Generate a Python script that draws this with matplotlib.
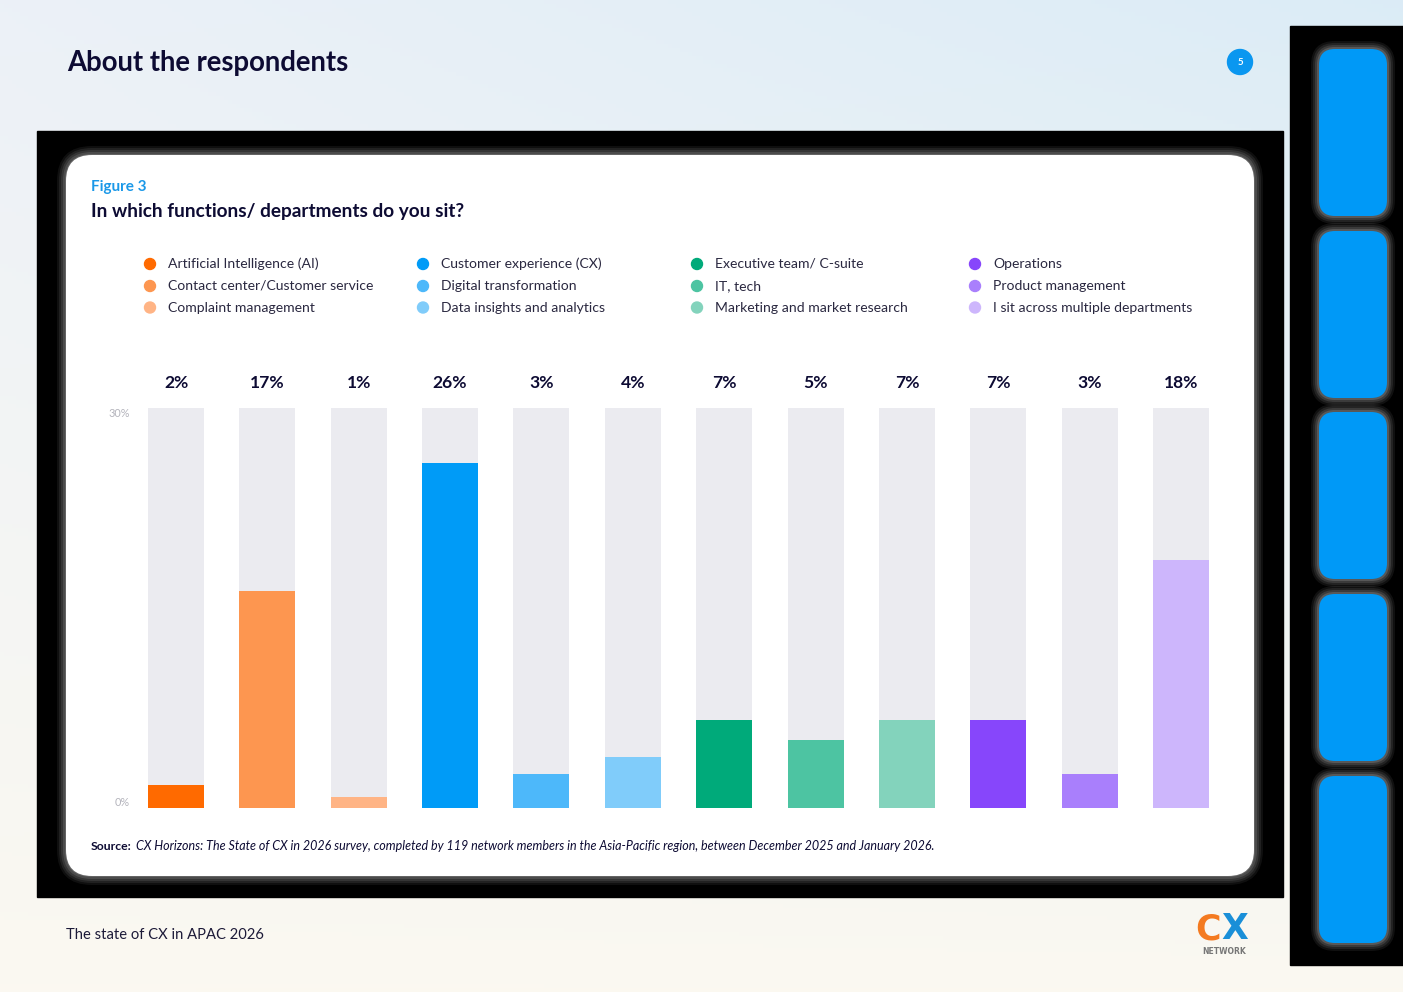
import numpy as np
import matplotlib
matplotlib.use("Agg")
import matplotlib.pyplot as plt
from matplotlib.patches import FancyBboxPatch, Rectangle, Circle
from matplotlib.transforms import blended_transform_factory, ScaledTranslation

# ---------------- data ----------------
categories = [
    "Artificial Intelligence (AI)",
    "Contact center/Customer service",
    "Complaint management",
    "Customer experience (CX)",
    "Digital transformation",
    "Data insights and analytics",
    "Executive team/ C-suite",
    "IT, tech",
    "Marketing and market research",
    "Operations",
    "Product management",
    "I sit across multiple departments",
]
values = [1.7, 16.3, 0.8, 25.9, 2.5, 3.8, 6.6, 5.1, 6.6, 6.6, 2.5, 18.6]
value_labels = ["2%", "17%", "1%", "26%", "3%", "4%", "7%", "5%", "7%", "7%", "3%", "18%"]
colors = ["#ff6a00", "#fd9650", "#ffb485",
          "#009bf7", "#4db8fa", "#80ccfa",
          "#00aa7a", "#4dc4a2", "#83d3bc",
          "#8746fb", "#a97ffc", "#cdb6fc"]
axis_max = 30
y_tick_labels = ["0%", "30%"]

W, H = 1403, 992
FONT = "Lato"
NAVY = "#0d0b33"

fig = plt.figure(figsize=(W / 100, H / 100), dpi=100)

# ---------------- background (pixel coordinate axes) ----------------
bg = fig.add_axes([0, 0, 1, 1])
bg.set_xlim(0, W)
bg.set_ylim(H, 0)
bg.axis("off")

yy, xx = np.mgrid[0:H:4, 0:W:4]
xn = xx / W
yn = yy / H
c_tl = np.array([0.925, 0.945, 0.970])
c_tr = np.array([0.860, 0.925, 0.965])
c_bot = np.array([0.985, 0.975, 0.945])
top = c_tl[None, None, :] * (1 - xn[..., None]) + c_tr[None, None, :] * xn[..., None]
img = top * (1 - yn[..., None]) + c_bot[None, None, :] * yn[..., None]
bg.imshow(img, extent=[0, W, H, 0], aspect="auto", zorder=0)

# black frame behind the card
bg.add_patch(Rectangle((37, 131), 1283 - 37, 897 - 131, color="black", zorder=1))

# card glow
for i, a in enumerate([0.07, 0.09, 0.11, 0.14, 0.18]):
    pad = 9 - 2 * i
    bg.add_patch(FancyBboxPatch((66 - pad, 155 - pad), 1254 - 66 + 2 * pad, 876 - 155 + 2 * pad,
                                boxstyle=f"round,pad=0,rounding_size={26 + pad}",
                                fc="#d8d8d8", ec="none", alpha=a, zorder=2))
bg.add_patch(FancyBboxPatch((66, 155), 1254 - 66, 876 - 155,
                            boxstyle="round,pad=0,rounding_size=26",
                            fc="white", ec="none", zorder=3))

# right-side panel
bg.add_patch(Rectangle((1290, 26), W - 1290, 965 - 26, color="black", zorder=1))
for y0 in [49, 231, 412, 594, 776]:
    for i, a in enumerate([0.08, 0.10, 0.14, 0.2]):
        pad = 8 - 2 * i
        bg.add_patch(FancyBboxPatch((1319 - pad, y0 - pad), 68 + 2 * pad, 167 + 2 * pad,
                                    boxstyle=f"round,pad=0,rounding_size={16 + pad}",
                                    fc="#d0d0d0", ec="none", alpha=a, zorder=2))
    bg.add_patch(FancyBboxPatch((1319, y0), 68, 167,
                                boxstyle="round,pad=0,rounding_size=16",
                                fc="#0099f7", ec="none", zorder=3))

# page header
bg.text(67, 63, "About the respondents", fontsize=19.8, fontweight="bold",
        color=NAVY, family=FONT, va="center", ha="left", zorder=5)
bg.add_patch(Circle((1240, 62), 12.5, color="#0a97f0", zorder=5))
bg.text(1240, 62.5, "5", fontsize=7, fontweight="bold", color="white",
        family=FONT, va="center", ha="center", zorder=6)

# card titles
bg.text(91, 187.5, "Figure 3", fontsize=11, fontweight="bold", color="#1a98e8",
        family=FONT, va="center", ha="left", zorder=5)
bg.text(91, 211.5, "In which functions/ departments do you sit?", fontsize=13.7,
        fontweight="bold", color=NAVY, family=FONT, va="center", ha="left", zorder=5)

# legend (4 columns x 3 rows, column-wise)
col_x = [150, 423, 697, 975]
row_y = [264, 286, 307.5]
for i, (lab, col) in enumerate(zip(categories, colors)):
    cx = col_x[i // 3]
    cy = row_y[i % 3]
    bg.add_patch(Circle((cx, cy), 5.5, color=col, zorder=5))
    bg.text(cx + 18, cy, lab, fontsize=10.1, color="#2a2840", family=FONT,
            va="center", ha="left", zorder=5)

# source line
bg.text(91, 846, "Source:", fontsize=8.8, fontweight="bold", color=NAVY,
        family=FONT, va="center", ha="left", zorder=5)
bg.text(136, 846, "CX Horizons: The State of CX in 2026 survey, completed by 119 network "
        "members in the Asia-Pacific region, between December 2025 and January 2026.",
        fontsize=9.0, style="italic", color=NAVY, family=FONT, va="center", ha="left", zorder=5)

# footer
bg.text(66, 935, "The state of CX in APAC 2026", fontsize=10.6, color="#1c1a38",
        family=FONT, va="center", ha="left", zorder=5)
bg.text(1221, 929, "C", fontsize=25, fontweight="heavy", color="#f47a20",
        family="DejaVu Sans", va="center", ha="right", zorder=5)
bg.text(1221, 929, "X", fontsize=25, fontweight="heavy", color="#1a8fd8",
        family="DejaVu Sans", va="center", ha="left", zorder=5)
bg.text(1224, 951, "NETWORK", fontsize=5.5, fontweight="bold", color="#777777",
        family="DejaVu Sans", va="center", ha="center", zorder=5)

# ---------------- chart ----------------
L, R = 136, 1230
T, B = 408, 807.7
ax = fig.add_axes([L / W, 1 - B / H, (R - L) / W, (B - T) / H])
ax.set_zorder(10)
ax.patch.set_alpha(0)
x = np.arange(len(categories))
spacing = 91.36
ax.set_xlim(-(176 - L) / spacing, len(categories) - 1 + (R - 1181) / spacing)
ax.set_ylim(0, axis_max)
bar_w = 56 / spacing
ax.bar(x, [axis_max] * len(x), width=bar_w, color="#ebebf0", zorder=1)
ax.bar(x, values, width=bar_w, color=colors, zorder=2)
for xi, lab in zip(x, value_labels):
    ax.annotate(lab, (xi, axis_max), xytext=(0, 25), textcoords="offset pixels",
                ha="center", va="center", fontsize=12.6, fontweight="bold",
                color=NAVY, family=FONT)
for sp in ax.spines.values():
    sp.set_visible(False)
ax.set_xticks([])
ax.set_yticks([])
tr = blended_transform_factory(ax.transAxes, ax.transData) + \
    ScaledTranslation(-6 / 100, 0, fig.dpi_scale_trans)
ax.text(0, axis_max, y_tick_labels[1], transform=tr,
        ha="right", va="top", fontsize=7.8, color="#b4b4bc", family=FONT)
ax.text(0, 0, y_tick_labels[0], transform=tr,
        ha="right", va="bottom", fontsize=7.8, color="#b4b4bc", family=FONT)

fig.savefig("out.png", dpi=100)
